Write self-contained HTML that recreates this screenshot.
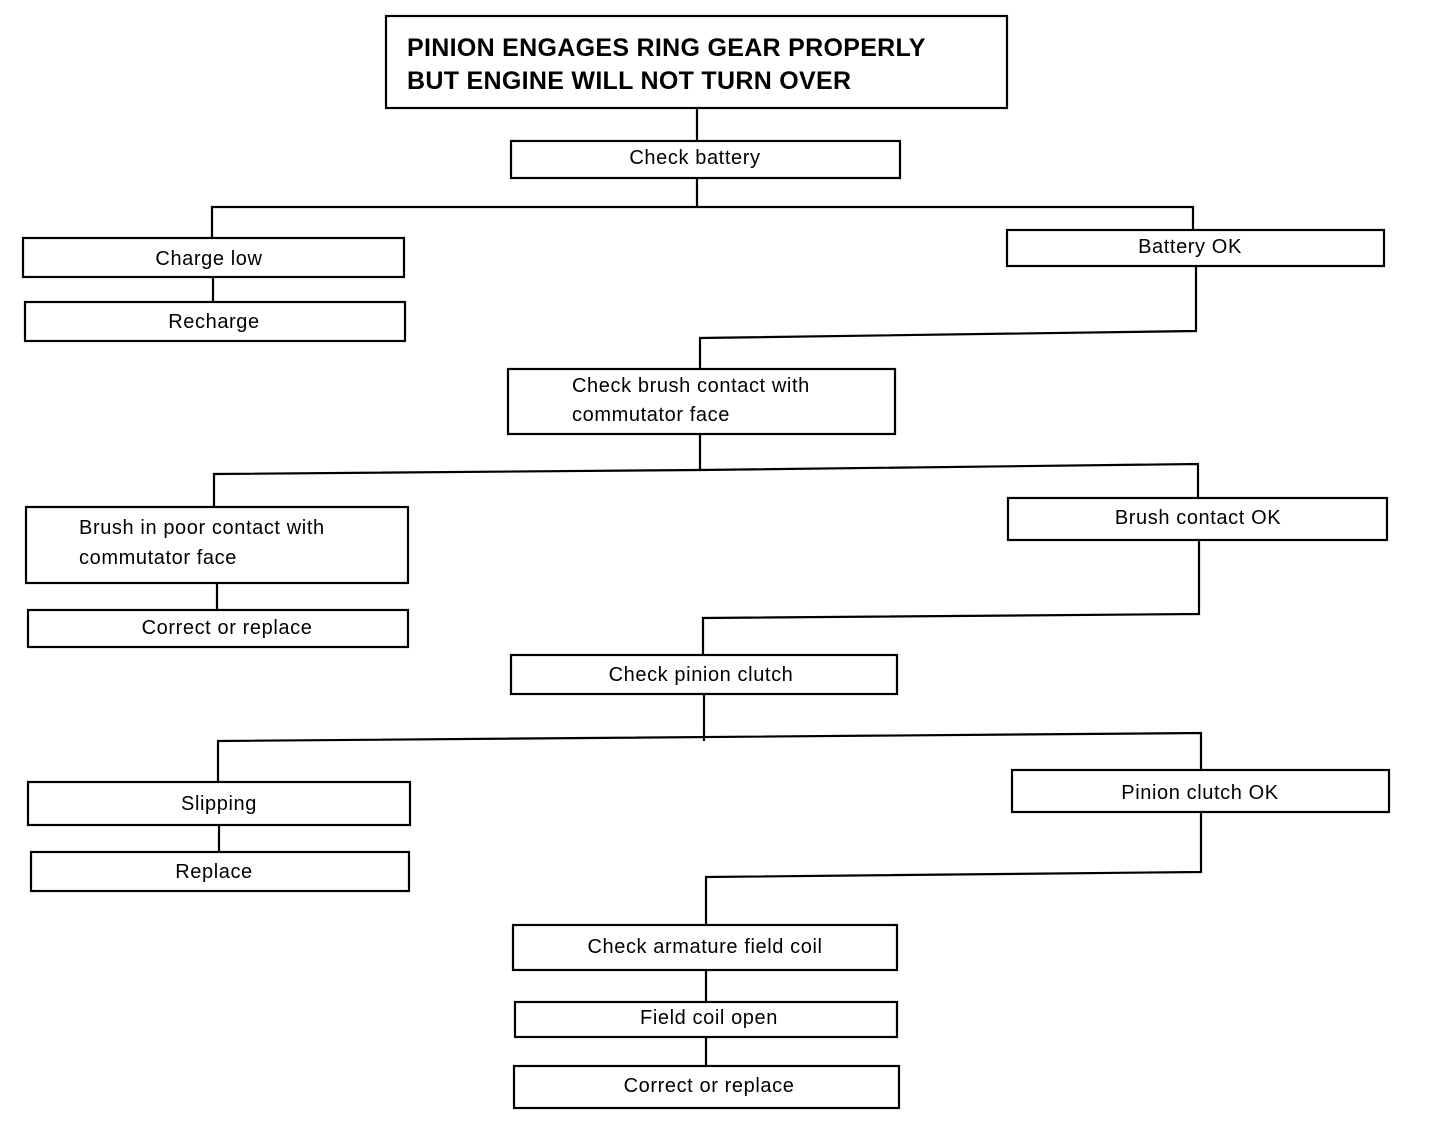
<!DOCTYPE html>
<html><head><meta charset="utf-8"><style>
html,body{margin:0;padding:0;background:#fff;}
svg{display:block;}
text{font-family:"Liberation Sans",sans-serif;fill:#000;}
.t{font-size:20px;letter-spacing:0.6px;}
.b{font-size:25px;font-weight:bold;letter-spacing:0.3px;}
</style></head><body>
<svg width="1440" height="1124" viewBox="0 0 1440 1124" xmlns="http://www.w3.org/2000/svg">
<g fill="none" stroke="#000" stroke-width="2.2">
<rect x="386" y="16" width="621" height="92"/>
<rect x="511" y="141" width="389" height="37"/>
<rect x="23" y="238" width="381" height="39"/>
<rect x="25" y="302" width="380" height="39"/>
<rect x="1007" y="230" width="377" height="36"/>
<rect x="508" y="369" width="387" height="65"/>
<rect x="26" y="507" width="382" height="76"/>
<rect x="28" y="610" width="380" height="37"/>
<rect x="1008" y="498" width="379" height="42"/>
<rect x="511" y="655" width="386" height="39"/>
<rect x="28" y="782" width="382" height="43"/>
<rect x="31" y="852" width="378" height="39"/>
<rect x="1012" y="770" width="377" height="42"/>
<rect x="513" y="925" width="384" height="45"/>
<rect x="515" y="1002" width="382" height="35"/>
<rect x="514" y="1066" width="385" height="42"/>
<polyline points="697,108 697,141"/>
<polyline points="697,178 697,207"/>
<polyline points="212,238 212,207 1193,207 1193,230"/>
<polyline points="213,277 213,302"/>
<polyline points="1196,266 1196,331 700,338 700,369"/>
<polyline points="700,434 700,470"/>
<polyline points="214,507 214,474 700,470 1198,464 1198,498"/>
<polyline points="217,583 217,610"/>
<polyline points="1199,540 1199,614 703,618 703,655"/>
<polyline points="704,694 704,741"/>
<polyline points="218,782 218,741 1201,733 1201,770"/>
<polyline points="219,825 219,852"/>
<polyline points="1201,812 1201,872 706,877 706,925"/>
<polyline points="706,970 706,1002"/>
<polyline points="706,1037 706,1066"/>
</g>
<text class="b" x="407" y="56">PINION ENGAGES RING GEAR PROPERLY</text>
<text class="b" x="407" y="89">BUT ENGINE WILL NOT TURN OVER</text>
<g class="t" text-anchor="middle">
<text x="695" y="164">Check battery</text>
<text x="209" y="265">Charge low</text>
<text x="214" y="328">Recharge</text>
<text x="1190" y="253">Battery OK</text>
<text x="227" y="634">Correct or replace</text>
<text x="1198" y="524">Brush contact OK</text>
<text x="701" y="681">Check pinion clutch</text>
<text x="219" y="810">Slipping</text>
<text x="214" y="878">Replace</text>
<text x="1200" y="799">Pinion clutch OK</text>
<text x="705" y="953">Check armature field coil</text>
<text x="709" y="1024">Field coil open</text>
<text x="709" y="1092">Correct or replace</text>
</g>
<g class="t">
<text x="572" y="392">Check brush contact with</text>
<text x="572" y="421">commutator face</text>
<text x="79" y="534">Brush in poor contact with</text>
<text x="79" y="564">commutator face</text>
</g>
</svg>
</body></html>
